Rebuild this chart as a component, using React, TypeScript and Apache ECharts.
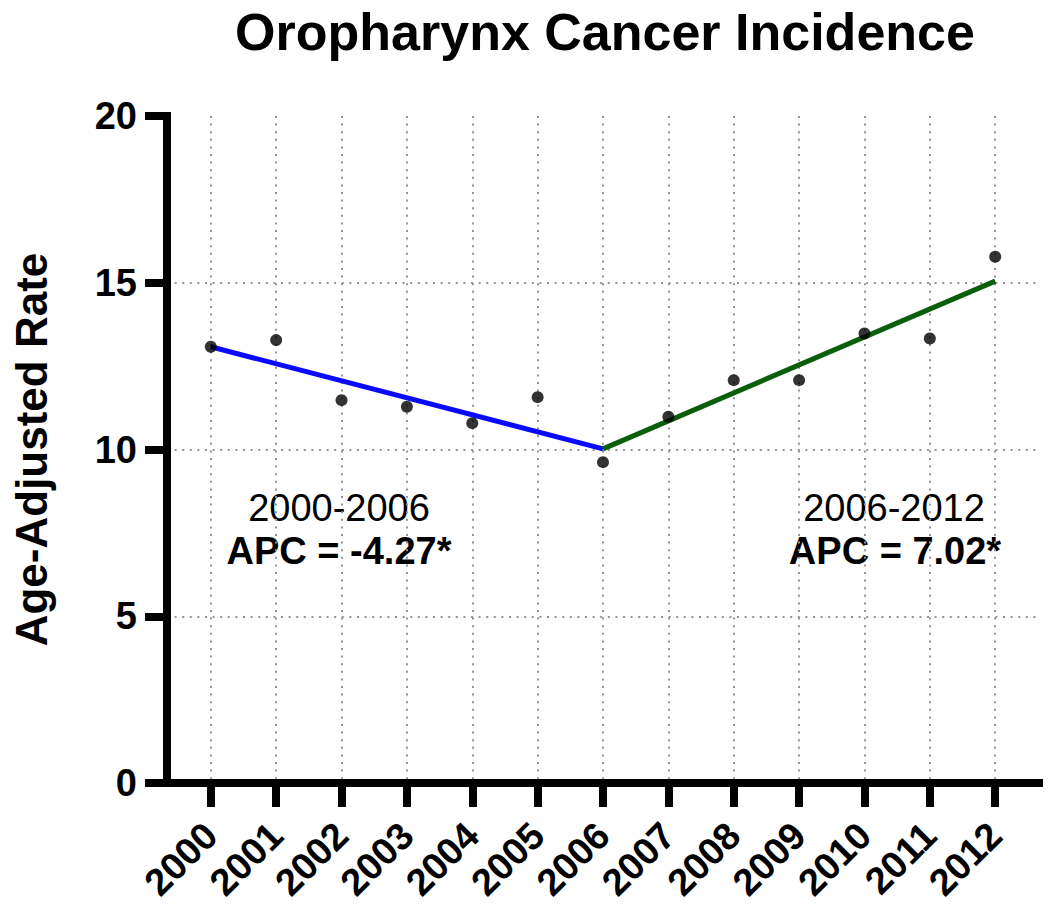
import React, { useEffect, useRef } from "react";
import * as echarts from "echarts";

const years = [2000, 2001, 2002, 2003, 2004, 2005, 2006, 2007, 2008, 2009, 2010, 2011, 2012];
const rates = [13.08, 13.28, 11.48, 11.28, 10.79, 11.57, 9.62, 10.98, 12.08, 12.08, 13.48, 13.33, 15.78];
const trend2000to2006 = [
  [2000, 13.08],
  [2006, 10.02],
];
const trend2006to2012 = [
  [2006, 10.02],
  [2012, 15.05],
];
const yTickValues = [0, 5, 10, 15, 20];
const chartTitle = "Oropharynx Cancer Incidence";
const yAxisName = "Age-Adjusted Rate";
const periodLabels = ["2000-2006", "2006-2012"];
const apcLabels = ["APC = -4.27*", "APC = 7.02*"];

const FONT = "'Liberation Sans', Arial, Helvetica, sans-serif";

export default function App() {
  const ref = useRef<HTMLDivElement>(null);

  useEffect(() => {
    if (!ref.current) return;
    const chart = echarts.init(ref.current, undefined, { renderer: "svg" });

    const gridStyle = { color: "#949494", width: 2, type: [2, 5.6] as any };

    chart.setOption({
      animation: false,
      backgroundColor: "#ffffff",
      grid: { left: 167, right: 11, top: 116, bottom: 132, containLabel: false },
      xAxis: {
        type: "value",
        min: 1999.33,
        max: 2012.67,
        axisLine: { show: true, onZero: false, lineStyle: { color: "#000", width: 8, cap: "square" } },
        axisTick: { show: true, length: 24, lineStyle: { color: "#000", width: 8 }, customValues: years },
        axisLabel: {
          customValues: years,
          rotate: 45,
          margin: 46,
          color: "#000",
          fontSize: 38,
          fontWeight: "bold",
          fontFamily: FONT,
          formatter: (v: number) => String(Math.round(v)),
        },
        splitLine: { show: true, lineStyle: gridStyle },
      },
      yAxis: {
        type: "value",
        min: 0,
        max: 20,
        interval: 5,
        name: yAxisName,
        nameLocation: "middle",
        nameGap: 114,
        nameTextStyle: { fontSize: 44, fontWeight: "bold", color: "#000", fontFamily: FONT },
        axisLine: { show: true, lineStyle: { color: "#000", width: 8, cap: "square" } },
        axisTick: { show: true, length: 22, lineStyle: { color: "#000", width: 8 } },
        axisLabel: {
          margin: 30,
          color: "#000",
          fontSize: 38,
          fontWeight: "bold",
          fontFamily: FONT,
          formatter: (v: number) => (yTickValues.includes(v) ? String(v) : ""),
        },
        splitLine: { show: true, showMinLine: false, showMaxLine: false, lineStyle: gridStyle },
      },
      series: [
        {
          type: "line",
          data: trend2000to2006,
          symbol: "none",
          lineStyle: { color: "#0a0aff", width: 5 },
          z: 3,
        },
        {
          type: "line",
          data: trend2006to2012,
          symbol: "none",
          lineStyle: { color: "#0b5e0b", width: 5 },
          z: 3,
        },
        {
          type: "scatter",
          data: years.map((y, i) => [y, rates[i]]),
          symbol: "circle",
          symbolSize: 12,
          itemStyle: { color: "#000" },
          z: 4,
        },
      ],
      graphic: [
        {
          type: "text",
          x: 605,
          y: 32,
          style: {
            text: chartTitle,
            fill: "#000",
            font: `bold 52px ${FONT}`,
            textAlign: "center",
            textVerticalAlign: "middle",
          },
        },
        {
          type: "text",
          x: 339,
          y: 508,
          style: { text: periodLabels[0], fill: "#000", font: `38px ${FONT}`, textAlign: "center", textVerticalAlign: "middle" },
        },
        {
          type: "text",
          x: 339,
          y: 551,
          style: { text: apcLabels[0], fill: "#000", font: `bold 38px ${FONT}`, textAlign: "center", textVerticalAlign: "middle" },
        },
        {
          type: "text",
          x: 894,
          y: 508,
          style: { text: periodLabels[1], fill: "#000", font: `38px ${FONT}`, textAlign: "center", textVerticalAlign: "middle" },
        },
        {
          type: "text",
          x: 895,
          y: 551,
          style: { text: apcLabels[1], fill: "#000", font: `bold 38px ${FONT}`, textAlign: "center", textVerticalAlign: "middle" },
        },
      ],
    });

    return () => chart.dispose();
  }, []);

  return (
    <div
      ref={ref}
      style={{ position: "absolute", left: 0, top: 0, width: 1050, height: 915, background: "#fff" }}
    />
  );
}
